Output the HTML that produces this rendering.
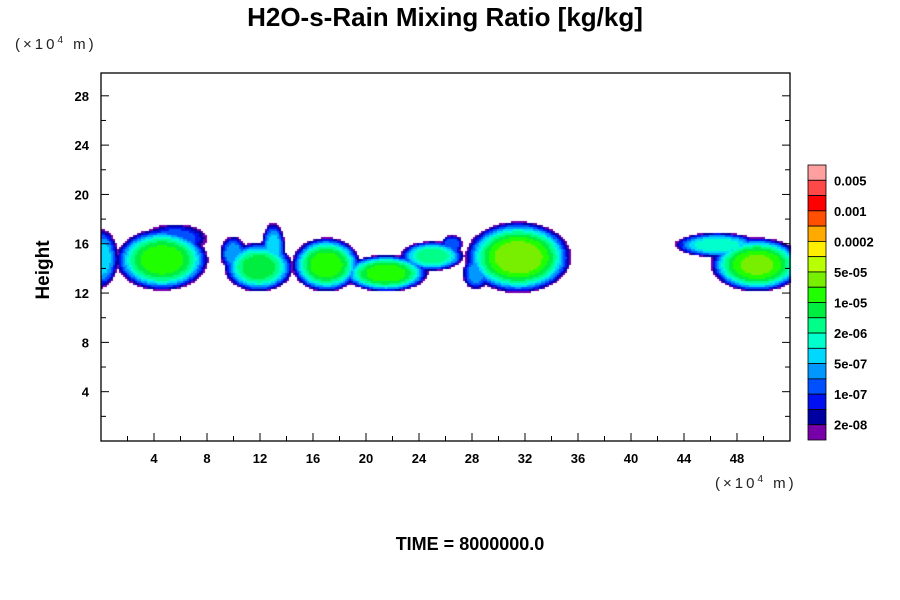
<!DOCTYPE html>
<html><head><meta charset="utf-8"><style>
body{margin:0;background:#fff;}
#wrap{position:relative;width:900px;height:600px;overflow:hidden;font-family:"Liberation Sans",sans-serif;}
canvas{position:absolute;left:0;top:0;}
svg{position:absolute;left:0;top:0;}
</style></head><body>
<div id="wrap">
<canvas id="field" width="900" height="600"></canvas>
<svg id="svg" width="900" height="600">
<text x="445" y="26" text-anchor="middle" font-size="26" font-weight="bold">H2O-s-Rain Mixing Ratio [kg/kg]</text>
<text x="15" y="49" font-size="15" letter-spacing="3" fill="#222">(×10<tspan dy="-6" font-size="10">4</tspan><tspan dy="6"> m)</tspan></text>
<text x="715" y="488" font-size="15" letter-spacing="3" fill="#222">(×10<tspan dy="-6" font-size="10">4</tspan><tspan dy="6"> m)</tspan></text>
<text transform="translate(49,270) rotate(-90)" text-anchor="middle" font-size="19" font-weight="bold">Height</text>
<text x="470" y="550" text-anchor="middle" font-size="18" font-weight="bold">TIME = 8000000.0</text>
</svg>
</div>
<script>
const xTicks=[4,8,12,16,20,24,28,32,36,40,44,48];
const yTicks=[4,8,12,16,20,24,28];
const cbLabels=["0.005","0.001","0.0002","5e-05","1e-05","2e-06","5e-07","1e-07","2e-08"];
const cbColors=["#ffa0a0","#ff4848","#ff0000","#ff5000","#ffaa00","#ffee00","#b8ff00","#78ee00","#20ff00","#00ee40","#00ff88","#00ffcc","#00d8ff","#0098ff","#0050ff","#0010f0","#0000a0","#7800a8"];
// blobs: centerX, centerY (x1e4 m), halfWidthX, halfWidthY, peak level
const blobCx=[0,4.6,5.6,11.9,13,10,17,21.5,25,26.5,31.5,28.3,49.5,46.5];
const blobCy=[14.8,14.7,16.4,14.1,15.6,15.2,14.3,13.6,15,16,14.9,13.6,14.3,15.9];
const blobWx=[1.3,3.5,2.4,2.6,0.9,1,2.6,3.2,2.4,0.8,4,1,3.5,3.2];
const blobWy=[2.4,2.5,1.2,2.0,2.1,1.4,2.2,1.5,1.2,0.7,2.9,1.3,2.2,1.0];
const blobAmp=[5,9,3,8,5,4,9,9,7,3,10,4,9.5,6];

const L=101,R=790,T=73,B=441,XMAX=52,YMAX=29.85;
const sx=v=>L+(v/XMAX)*(R-L);
const sy=v=>B-(v/YMAX)*(B-T);
const NS="http://www.w3.org/2000/svg";
const svg=document.getElementById('svg');
function mk(tag,attrs){const e=document.createElementNS(NS,tag);for(const k in attrs)e.setAttribute(k,attrs[k]);svg.appendChild(e);return e;}

const ctx=document.getElementById('field').getContext('2d');
const pal=cbColors.slice().reverse();
const step=2;
for(let py=T;py<B;py+=step){for(let px=L;px<R;px+=step){
  const x=(px+1-L)/(R-L)*XMAX, y=(B-py-1)/(B-T)*YMAX;
  let f=-1;
  for(let i=0;i<blobCx.length;i++){
    const dx=(x-blobCx[i])/blobWx[i], dy=(y-blobCy[i])/blobWy[i];
    const r2=dx*dx+dy*dy;
    const v=(blobAmp[i]+1)*(1-Math.pow(r2,1.5));
    if(v>f)f=v;
  }
  if(f>0){const lv=Math.min(pal.length-1,Math.floor(f));ctx.fillStyle=pal[lv];ctx.fillRect(px,py,step,step);}
}}

const fr=mk('rect',{x:L,y:T,width:R-L,height:B-T,fill:'none',stroke:'#000','stroke-width':1.3});


for(let v=2;v<XMAX;v+=2){
  const major=v%4===0,len=major?8:5;
  mk('line',{x1:sx(v),x2:sx(v),y1:B,y2:B-len,stroke:'#000'});
}
for(let v=2;v<YMAX;v+=2){
  const major=v%4===0,len=major?8:5;
  mk('line',{x1:L,x2:L+len,y1:sy(v),y2:sy(v),stroke:'#000'});
  mk('line',{x1:R,x2:R-len,y1:sy(v),y2:sy(v),stroke:'#000'});
}
xTicks.forEach(v=>{const t=mk('text',{x:sx(v),y:B+22,'text-anchor':'middle','font-size':13,'font-weight':'bold'});t.textContent=v;

});
yTicks.forEach(v=>{const t=mk('text',{x:L-12,y:sy(v)+5,'text-anchor':'end','font-size':13,'font-weight':'bold'});t.textContent=v;

});

const cbX=808,cbW=18,cbTop=165,cbBot=440,bh=(cbBot-cbTop)/cbColors.length;
cbColors.forEach((c,i)=>{const r=mk('rect',{x:cbX,y:cbTop+i*bh,width:cbW,height:bh,fill:c,stroke:'#000','stroke-width':0.8});

});
cbLabels.forEach((s,i)=>{const t=mk('text',{x:834,y:cbTop+(1+2*i)*bh+5,'font-size':13,'font-weight':'bold'});t.textContent=s;

});
</script>
</body></html>
